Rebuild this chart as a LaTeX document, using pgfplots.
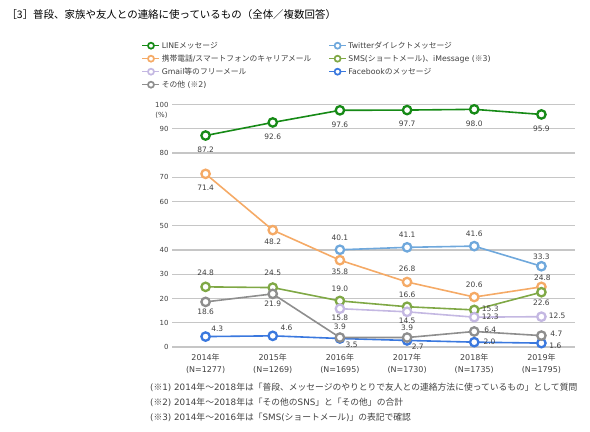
\documentclass[border=0pt]{standalone}
\usepackage{fontspec}
\setmainfont{DejaVu Sans}
\newfontfamily\jp{Noto Sans CJK JP}
\newcommand\jj[1]{{\jp #1}}
\usepackage{pgfplots}
\usepackage{pgfplotstable}
\pgfplotsset{compat=1.18}
\definecolor{cline}{HTML}{168A16}
\definecolor{ctw}{HTML}{6FA8DC}
\definecolor{ccar}{HTML}{F5AA66}
\definecolor{csms}{HTML}{7FA845}
\definecolor{cgm}{HTML}{C4B8E2}
\definecolor{cfb}{HTML}{3A78DE}
\definecolor{coth}{HTML}{8E8E8E}
\definecolor{lab}{HTML}{404040}

\pgfplotstableread{
x y dx dy
0 87.2 0 -14
1 92.6 0 -14
2 97.6 0 -14
3 97.7 0 -14
4 98.0 0 -14
5 95.9 0 -14
}\tline
\pgfplotstableread{
x y dx dy
2 40.1 0 12
3 41.1 0 12.5
4 41.6 0 12.3
5 33.3 0 9.7
}\ttw
\pgfplotstableread{
x y dx dy
0 71.4 0 -14
1 48.2 0 -12
2 35.8 0 -12
3 26.8 0 13
4 20.6 0 12
5 24.8 1 9.3
}\tcar
\pgfplotstableread{
x y dx dy
0 24.8 0 14.5
1 24.5 0 14.5
2 19.0 0 11.7
3 16.6 0 12.3
4 15.3 16 1
5 22.6 0 -10.4
}\tsms
\pgfplotstableread{
x y dx dy
2 15.8 0 -9.5
3 14.5 0 -8.5
4 12.3 16 0
5 12.5 15.7 0.5
}\tgm
\pgfplotstableread{
x y dx dy
0 4.3 11.7 7.6
1 4.6 13.7 7.6
2 3.5 11.7 -5.8
3 2.7 10.7 -6.5
4 2.0 15.3 0
5 1.6 14 -3
}\tfb
\pgfplotstableread{
x y dx dy
0 18.6 0 -9.7
1 21.9 0 -10
2 3.9 0 10.5
3 3.9 0 9.5
4 6.4 16 1.5
5 4.7 15 1.6
}\toth

\pgfplotsset{
  /pgf/number format/assume math mode=true,
  ser/.style={color=#1, line width=1.6bp, mark=*, mark size=4.2bp,
    mark options={fill=white, draw=#1, line width=2.3bp, solid}},
  lbl/.style={point meta=y,
    nodes near coords={\pgfmathprintnumber[fixed,zerofill,precision=1]{\pgfplotspointmeta}},
    visualization depends on={\thisrow{dx} \as \ldx},
    visualization depends on={\thisrow{dy} \as \ldy},
    nodes near coords style={anchor=center, inner sep=0pt, xshift=\ldx*1bp, yshift=\ldy*1bp,
      font=\fontsize{7.5}{9}\selectfont, text=lab}},
}

\begin{document}
\begin{tikzpicture}
\useasboundingbox (0,0) rectangle (590bp,432bp);
\begin{axis}[
  at={(172bp,85bp)}, anchor=south west, scale only axis,
  width=403bp, height=242.5bp,
  xmin=-0.5, xmax=5.5, ymin=0, ymax=100,
  clip=false,
  axis line style={draw=none},
  major tick length=0pt,
  ytick={0,10,...,100},
  xtick={0,1,2,3,4,5},
  xticklabels={{2014{\jp 年}\\(N=1277)},{2015{\jp 年}\\(N=1269)},{2016{\jp 年}\\(N=1695)},{2017{\jp 年}\\(N=1730)},{2018{\jp 年}\\(N=1735)},{2019{\jp 年}\\(N=1795)}},
  ymajorgrids, grid style={gray!45, line width=1.2bp},
  yticklabel style={font=\fontsize{7}{8}\selectfont, text=lab},
  xticklabel style={font=\fontsize{8}{12}\selectfont, align=center, text=lab, yshift=-3bp},
  legend columns=2,
  legend cell align=left,
  legend style={at={(-0.0757,1.2701)}, anchor=north west, draw=none, fill=none,
    inner sep=0pt, column sep=0pt, row sep=0pt,
    font=\fontsize{7.8}{9}\selectfont, text=lab,
    nodes={inner sep=1.5bp, text height=7.5bp, text depth=2.5bp}},
  legend image code/.code={\draw[mark repeat=2,mark phase=2,#1, line width=1.6bp, mark size=3bp,
     mark options={fill=white, line width=1.7bp, solid}] plot coordinates {(0bp,0bp) (8.5bp,0bp) (17bp,0bp)};},
]
\addplot[ser=cline, lbl] table[x=x,y=y] {\tline};
\addlegendentry{\makebox[165bp][l]{LINE\jj{メッセージ}}}
\addplot[ser=ctw, lbl] table[x=x,y=y] {\ttw};
\addlegendentry{Twitter\jj{ダイレクトメッセージ}}
\addplot[ser=ccar, lbl] table[x=x,y=y] {\tcar};
\addlegendentry{\makebox[165bp][l]{\jj{携帯電話}/\jj{スマートフォンのキャリアメール}}}
\addplot[ser=csms, lbl] table[x=x,y=y] {\tsms};
\addlegendentry{SMS(\jj{ショートメール})\jj{、}iMessage (\jj{※}3)}
\addplot[ser=cgm, lbl] table[x=x,y=y] {\tgm};
\addlegendentry{\makebox[165bp][l]{Gmail\jj{等のフリーメール}}}
\addplot[ser=cfb, lbl] table[x=x,y=y] {\tfb};
\addlegendentry{Facebook\jj{のメッセージ}}
\addplot[ser=coth, lbl] table[x=x,y=y] {\toth};
\addlegendentry{\makebox[165bp][l]{\jj{その他} (\jj{※}2)}}
\end{axis}
\node[anchor=center, font=\fontsize{7}{8}\selectfont, text=lab] at (161.5bp,316.5bp) {(\%)};
\node[anchor=west, font=\jp\fontsize{10.5}{12}\selectfont, text=black] at (3bp,417bp) {［3］普段、家族や友人との連絡に使っているもの（全体／複数回答）};
\begin{scope}[every node/.style={anchor=west, font=\fontsize{8.8}{10}\selectfont, text=lab, inner sep=0pt}]
\node at (150bp,45bp) {(\jj{※}1) 2014\jj{年～}2018\jj{年は「普段、メッセージのやりとりで友人との連絡方法に使っているもの」として質問}};
\node at (150bp,30bp) {(\jj{※}2) 2014\jj{年～}2018\jj{年は「その他の}SNS\jj{」と「その他」の合計}};
\node at (150bp,15bp) {(\jj{※}3) 2014\jj{年～}2016\jj{年は「}SMS(\jj{ショートメール})\jj{」の表記で確認}};
\end{scope}
\end{tikzpicture}
\end{document}
